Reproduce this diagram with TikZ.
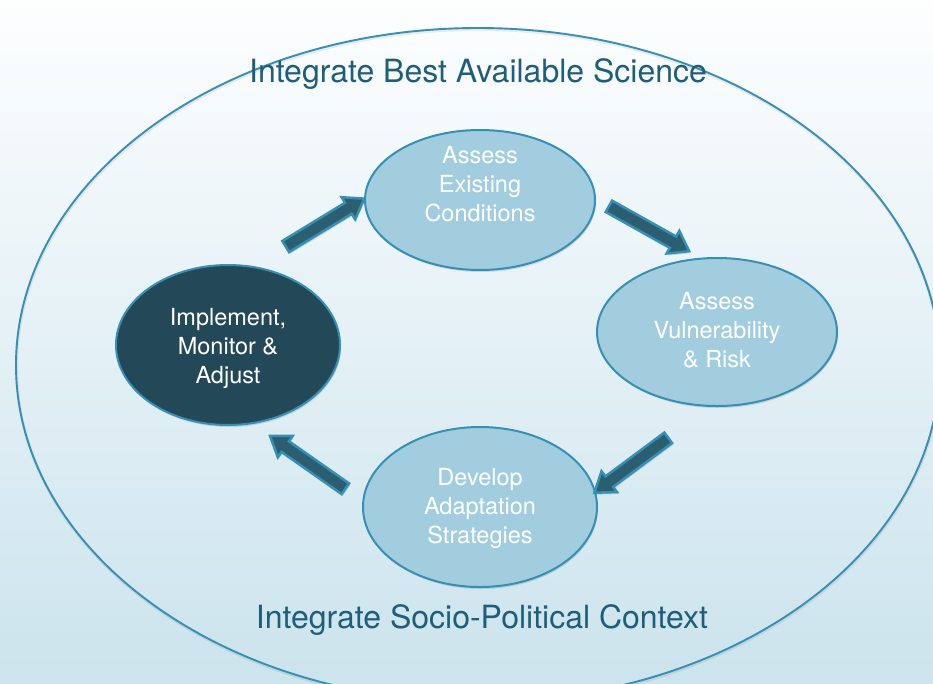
\documentclass[tikz,border=0pt]{standalone}
\usepackage{fontspec}
\setmainfont{TeX Gyre Heros}
\usetikzlibrary{shapes.geometric,shapes.arrows,shadows}
\usetikzlibrary{positioning}
\definecolor{titleblue}{HTML}{1F5E78}
\definecolor{ringblue}{HTML}{3690B5}
\definecolor{stepfill}{HTML}{A1CDDE}
\definecolor{darkstep}{HTML}{234858}
\definecolor{arrowfill}{HTML}{2B5E70}
% three lines of text, raised inside the ellipse
\newcommand{\steplines}[2]{\raisebox{#1}[\height][\depth]{\begin{tabular}{@{}c@{}}#2\end{tabular}}}

\begin{document}
\begin{tikzpicture}[x=1pt,y=-1pt,
  stage/.style={ellipse,draw=ringblue,line width=2pt,fill=stepfill,text=white,
    align=center,inner sep=0pt,font=\fontsize{23.5}{29}\selectfont,
    drop shadow={shadow xshift=1pt,shadow yshift=-2pt,opacity=.12,fill=black}},
  heading/.style={text=titleblue,font=\fontsize{32}{38}\selectfont},
  flow/.style={single arrow,draw=ringblue,fill=arrowfill,line width=2.5pt,
    inner sep=0pt,text height=5.5pt,text depth=5pt,minimum height=92pt,
    single arrow head extend=6.5pt,single arrow tip angle=70,
    single arrow head indent=0pt,sloped,allow upside down,
    drop shadow={shadow xshift=1pt,shadow yshift=-2pt,opacity=.12,fill=black}}]
\clip (0,0) rectangle (933,683);
\shade[top color=white!60!stepfill!5,middle color=stepfill!15!white,bottom color=stepfill!55!white]
  (0,0) rectangle (933,683);

% outer ring
\draw[black,opacity=.07,line width=3pt] (478.5,366.5) ellipse [x radius=462pt,y radius=337pt];
\draw[ringblue,line width=1.9pt] (478,365) ellipse [x radius=462pt,y radius=337pt];
\node[heading] (sci) at (478,74) {Integrate Best Available Science};
\node[heading] (ctx) at (482,620) {Integrate Socio-Political Context};

% the four steps
\node[stage,minimum width=230pt,minimum height=140pt] (AEC) at (480,200)
  {\steplines{13pt}{Assess\\Existing\\Conditions}};
\node[stage,minimum width=240pt,minimum height=148pt] (AVR) at (717,332)
  {\steplines{-1pt}{Assess\\Vulnerability\\\& Risk}};
\node[stage,minimum width=234pt,minimum height=160pt] (DAS) at (480,507)
  {\steplines{-2pt}{Develop\\Adaptation\\Strategies}};
\node[stage,fill=darkstep,minimum width=224pt,minimum height=160pt] (IMA) at (228,345)
  {\steplines{-4pt}{Implement,\\Monitor \&\\Adjust}};

\coordinate (t1) at (280,250); \coordinate (h1) at (362,200);
\coordinate (t2) at (603,203); \coordinate (h2) at (687,250);
\coordinate (t3) at (672,435); \coordinate (h3) at (598,490);
\coordinate (t4) at (350,492); \coordinate (h4) at (273,438);
\foreach \i in {1,...,4} {
  \path (t\i) -- (h\i) node[flow,midway] (F\i) {};
}
\end{tikzpicture}
\end{document}
